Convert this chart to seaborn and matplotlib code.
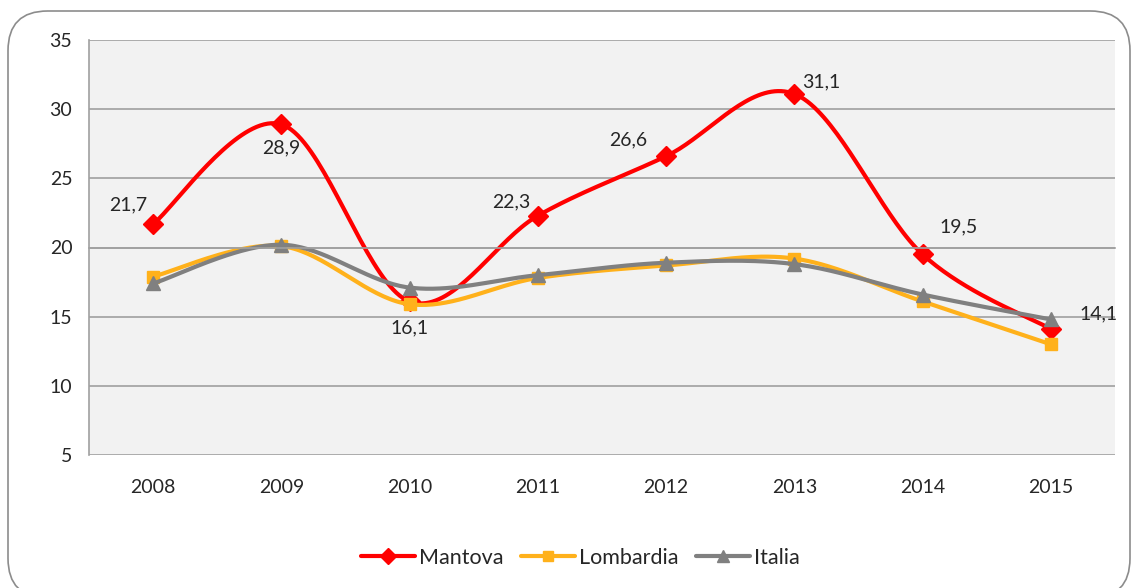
import numpy as np
import pandas as pd
import matplotlib
matplotlib.use("Agg")
import matplotlib.pyplot as plt
import seaborn as sns
from matplotlib.lines import Line2D
from matplotlib.patches import FancyBboxPatch

# %%
anni = ['2008', '2009', '2010', '2011', '2012', '2013', '2014', '2015']
mantova = [21.7, 28.9, 16.1, 22.3, 26.6, 31.1, 19.5, 14.1]
lombardia = [17.9, 20.1, 15.9, 17.8, 18.7, 19.2, 16.1, 13.0]
italia = [17.4, 20.2, 17.1, 18.0, 18.9, 18.8, 16.6, 14.8]

# label offsets for Mantova data labels (points)
offsets = [(-18, 14), (0, -17), (0, -19), (-19, 10), (-27, 12), (19, 9), (26, 20), (34, 11)]

FS = 14


def smooth(y, n=40):
    # Excel-like smoothed line (Catmull-Rom bezier between points)
    x = np.arange(len(y), dtype=float)
    y = np.asarray(y, dtype=float)
    px = np.concatenate([[x[0]], x, [x[-1]]])
    py = np.concatenate([[y[0]], y, [y[-1]]])
    xs, ys = [], []
    t = np.linspace(0, 1, n)
    for i in range(1, len(px) - 2):
        p0 = np.array([px[i], py[i]])
        p3 = np.array([px[i + 1], py[i + 1]])
        p1 = p0 + (np.array([px[i + 1], py[i + 1]]) - np.array([px[i - 1], py[i - 1]])) / 6
        p2 = p3 - (np.array([px[i + 2], py[i + 2]]) - np.array([px[i], py[i]])) / 6
        b = ((1 - t) ** 3)[:, None] * p0 + (3 * (1 - t) ** 2 * t)[:, None] * p1 \
            + (3 * (1 - t) * t ** 2)[:, None] * p2 + (t ** 3)[:, None] * p3
        xs.extend(b[:, 0])
        ys.extend(b[:, 1])
    return np.array(xs), np.array(ys)


# %%
sns.set_style('white')
plt.rcParams['font.family'] = ['Lato', 'DejaVu Sans']

fig = plt.figure(figsize=(11.34, 5.88), dpi=100)
ax = fig.add_axes([89 / 1134, 1 - 455 / 588, (1115 - 89) / 1134, (455 - 40) / 588])
ax.set_facecolor('#f2f2f2')

serie = [
    ('Mantova', mantova, '#ff0000', 'D', 10),
    ('Lombardia', lombardia, '#ffb11b', 's', 9),
    ('Italia', italia, '#808080', '^', 9.5),
]
x = np.arange(len(anni))
handles = []
for nome, vals, col, mk, ms in serie:
    xs, ys = smooth(vals)
    sns.lineplot(x=xs, y=ys, color=col, lw=3, ax=ax, sort=False, legend=False)
    ax.plot(x, vals, ls='none', marker=mk, ms=ms, color=col, mec=col)
    handles.append(Line2D([], [], color=col, lw=3, marker=mk, ms=ms * 0.85, mec=col))

for i, v in enumerate(mantova):
    ax.annotate(f'{v:.1f}'.replace('.', ','), (i, v), xytext=offsets[i],
                textcoords='offset points', ha='center', va='center', fontsize=FS)

ax.set_xlim(-0.5, len(anni) - 0.5)
ax.set_ylim(5, 35)
ax.set_yticks(range(5, 36, 5))
ax.yaxis.grid(True, color='#a0a0a0', lw=1.2)
ax.set_axisbelow(True)
for s in ['top', 'right']:
    ax.spines[s].set_visible(False)
ax.spines['left'].set_color('#a0a0a0')
ax.spines['left'].set_linewidth(1.2)
# horizontal axis crosses at 20
ax.spines['bottom'].set_position(('data', 20))
ax.spines['bottom'].set_color('#a0a0a0')
ax.spines['bottom'].set_linewidth(1.2)
ax.set_xticks(np.arange(-0.5, len(anni), 1.0))
ax.tick_params(axis='x', length=5, width=1.2, color='#a0a0a0', labelbottom=False)
ax.tick_params(axis='y', length=5, width=1.2, color='#a0a0a0', pad=7, labelsize=FS)

sec = ax.secondary_xaxis(0)
sec.set_xticks(x, labels=anni)
sec.tick_params(length=0, pad=17, labelsize=FS)
sec.spines['bottom'].set_visible(False)

fig.legend(handles, [s[0] for s in serie], loc='center', bbox_to_anchor=(0.512, 0.051),
           ncol=3, frameon=False, fontsize=15.5, handlelength=2.5,
           handletextpad=0.2, columnspacing=0.8)

fig.patches.append(FancyBboxPatch((8 / 1134, 1 - 598 / 588), 1122 / 1134, 587 / 588,
                                  boxstyle='round,pad=0,rounding_size=0.035',
                                  transform=fig.transFigure, fill=False,
                                  ec='#8c8c8c', lw=1.2, mutation_aspect=1134 / 588))

fig.savefig('out.png', dpi=100)
